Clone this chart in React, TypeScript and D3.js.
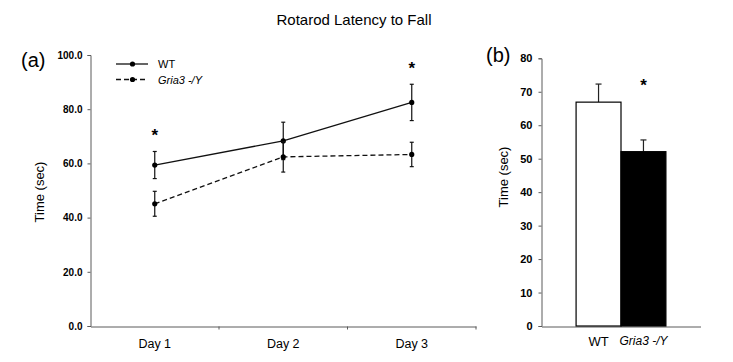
import React, { useEffect, useRef } from 'react'
import * as d3 from 'd3'

const days = ['Day 1', 'Day 2', 'Day 3']
const wtMeans = [59.4, 68.3, 82.5]
const wtErrors = [5.0, 6.9, 6.7]
const koMeans = [45.1, 62.4, 63.3]
const koErrors = [4.6, 5.6, 4.5]
const lineTicks = [0, 20, 40, 60, 80, 100]
const sigDays = ['Day 1', 'Day 3']

const groups = ['WT', 'Gria3 -/Y']
const barMeans = [66.9, 52.1]
const barErrors = [5.4, 3.5]
const barTicks = [0, 10, 20, 30, 40, 50, 60, 70, 80]

const FONT = 'Liberation Sans, Arial, sans-serif'
const AXIS = '#5a5a5a'

const App = () => {
  const ref = useRef<SVGSVGElement>(null)

  useEffect(() => {
    const svg = d3.select(ref.current)
    svg.selectAll('*').remove()
    svg.attr('font-family', FONT)

    svg.append('text')
      .attr('x', 354).attr('y', 25)
      .attr('text-anchor', 'middle')
      .attr('font-size', 15)
      .text('Rotarod Latency to Fall')

    // ---- panel (a) ----
    const xA = d3.scaleBand().domain(days).range([90.5, 476])
    const yA = d3.scaleLinear().domain([0, 100]).range([326, 55])
    const a = svg.append('g')

    a.append('text').attr('x', 21).attr('y', 67).attr('font-size', 20).text('(a)')

    const yAxA = a.append('g')
      .attr('transform', 'translate(90.5,0)')
      .call(d3.axisLeft(yA).tickValues(lineTicks).tickFormat(d3.format('.1f')).tickSize(3).tickPadding(5))
    yAxA.selectAll('text').attr('font-size', 10).attr('font-weight', 'bold').attr('fill', '#000').attr('font-family', FONT)
    yAxA.selectAll('path,line').attr('stroke', AXIS)

    const xAxA = a.append('g')
      .attr('transform', 'translate(0,326.5)')
      .call(d3.axisBottom(xA).tickSize(0).tickPadding(13).tickSizeOuter(0))
    xAxA.selectAll('text').attr('font-size', 12.5).attr('fill', '#000').attr('font-family', FONT)
    xAxA.selectAll('path').attr('stroke', AXIS)
    xAxA.selectAll('.bound')
      .data(days)
      .enter()
      .append('line')
      .attr('class', 'bound')
      .attr('x1', (d) => xA(d)! + xA.step())
      .attr('x2', (d) => xA(d)! + xA.step())
      .attr('y1', 0).attr('y2', 3)
      .attr('stroke', AXIS)

    a.append('text')
      .attr('transform', 'translate(44,192) rotate(-90)')
      .attr('text-anchor', 'middle')
      .attr('font-size', 13)
      .text('Time (sec)')

    const cx = (d: string) => xA(d)! + xA.bandwidth() / 2
    const series = [
      { name: 'WT', means: wtMeans, errs: wtErrors, dash: null },
      { name: 'Gria3 -/Y', means: koMeans, errs: koErrors, dash: '5,3' },
    ]

    series.forEach((s) => {
      const line = d3.line<number>()
        .x((_, i) => cx(days[i]))
        .y((v) => yA(v))
      a.append('path')
        .attr('d', line(s.means))
        .attr('fill', 'none')
        .attr('stroke', '#111')
        .attr('stroke-width', 1.3)
        .attr('stroke-dasharray', s.dash)

      const eb = a.append('g')
      s.means.forEach((v, i) => {
        const x = cx(days[i])
        const hi = yA(v + s.errs[i])
        const lo = yA(v - s.errs[i])
        eb.append('line').attr('x1', x).attr('x2', x).attr('y1', hi).attr('y2', lo).attr('stroke', '#111').attr('stroke-width', 1.2)
        eb.append('line').attr('x1', x - 2).attr('x2', x + 2).attr('y1', hi).attr('y2', hi).attr('stroke', '#111').attr('stroke-width', 1.2)
        eb.append('line').attr('x1', x - 2).attr('x2', x + 2).attr('y1', lo).attr('y2', lo).attr('stroke', '#111').attr('stroke-width', 1.2)
        eb.append('circle').attr('cx', x).attr('cy', yA(v)).attr('r', 2.6).attr('fill', '#000')
      })
    })

    sigDays.forEach((d) => {
      const i = days.indexOf(d)
      const top = yA(wtMeans[i] + wtErrors[i])
      a.append('text')
        .attr('x', cx(d)).attr('y', top - 10)
        .attr('text-anchor', 'middle')
        .attr('font-size', 17)
        .attr('font-weight', 'bold')
        .text('*')
    })

    // legend
    const leg = a.append('g')
    series.forEach((s, i) => {
      const y = 64 + i * 15.5
      leg.append('line').attr('x1', 116).attr('x2', 148).attr('y1', y).attr('y2', y)
        .attr('stroke', '#111').attr('stroke-width', 1.3).attr('stroke-dasharray', s.dash)
      leg.append('circle').attr('cx', 132.5).attr('cy', y).attr('r', 2.6).attr('fill', '#000')
      leg.append('text').attr('x', 158).attr('y', y + 4)
        .attr('font-size', 11)
        .attr('font-style', i === 1 ? 'italic' : 'normal')
        .text(s.name)
    })

    // ---- panel (b) ----
    const xB = d3.scaleBand().domain(groups).range([541.5, 700.5]).paddingInner(0).paddingOuter(0.77)
    const yB = d3.scaleLinear().domain([0, 80]).range([326, 58.3])
    const b = svg.append('g')

    b.append('text').attr('x', 486).attr('y', 62).attr('font-size', 20).text('(b)')

    const yAxB = b.append('g')
      .attr('transform', 'translate(541.5,0)')
      .call(d3.axisLeft(yB).tickValues(barTicks).tickFormat(d3.format('d')).tickSize(3).tickPadding(6))
    yAxB.selectAll('text').attr('font-size', 11).attr('font-weight', 'bold').attr('fill', '#000').attr('font-family', FONT)
    yAxB.selectAll('path,line').attr('stroke', AXIS)

    const xAxB = b.append('g')
      .attr('transform', 'translate(0,326.5)')
      .call(d3.axisBottom(xB).tickSize(0).tickPadding(10).tickSizeOuter(0))
    xAxB.selectAll('text')
      .attr('font-size', (d) => (d === 'WT' ? 13 : 12))
      .attr('font-style', (d) => (d === 'WT' ? 'normal' : 'italic'))
      .attr('fill', '#000').attr('font-family', FONT)
    xAxB.selectAll('path').attr('stroke', AXIS)

    b.append('text')
      .attr('transform', 'translate(508,177) rotate(-90)')
      .attr('text-anchor', 'middle')
      .attr('font-size', 13)
      .text('Time (sec)')

    groups.forEach((g, i) => {
      const x = xB(g)!
      const w = xB.bandwidth()
      const top = yB(barMeans[i] + barErrors[i])
      b.append('line').attr('x1', x + w / 2).attr('x2', x + w / 2).attr('y1', yB(barMeans[i])).attr('y2', top).attr('stroke', '#222').attr('stroke-width', 1.2)
      b.append('line').attr('x1', x + w / 2 - 3).attr('x2', x + w / 2 + 3).attr('y1', top).attr('y2', top).attr('stroke', '#222').attr('stroke-width', 1.2)
      b.append('rect')
        .attr('x', x).attr('y', yB(barMeans[i]))
        .attr('width', w).attr('height', yB(0) - yB(barMeans[i]))
        .attr('fill', i === 0 ? '#fff' : '#000')
        .attr('stroke', '#000').attr('stroke-width', 1.2)
    })

    b.append('text')
      .attr('x', xB('Gria3 -/Y')! + xB.bandwidth() / 2).attr('y', 91)
      .attr('text-anchor', 'middle')
      .attr('font-size', 17)
      .attr('font-weight', 'bold')
      .text('*')
  }, [])

  return (
    <div style={{ position: 'absolute', left: 0, top: 0 }}>
      <svg ref={ref} width={733} height={362} style={{ display: 'block', background: '#fff' }}></svg>
    </div>
  )
}

export default App
